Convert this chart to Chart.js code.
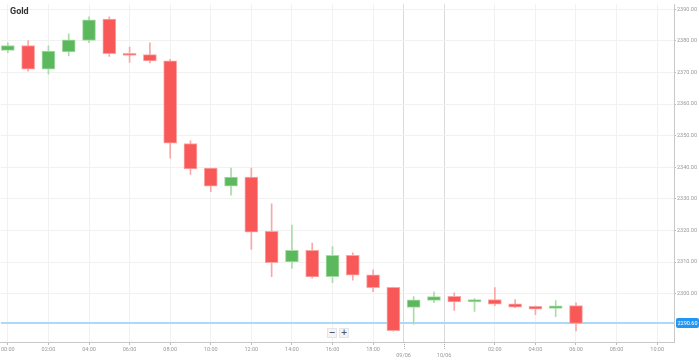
<!DOCTYPE html>
<html>
<head>
<meta charset="utf-8">
<script src="https://cdn.jsdelivr.net/npm/chart.js@4.4.1/dist/chart.umd.min.js"></script>
<style>
  html, body { margin: 0; padding: 0; background: #fff; }
  #wrap { position: relative; width: 699px; height: 361px; }
  #c { position: absolute; left: 0; top: 0; }
  #title { position: absolute; left: 10px; top: 6px; font: bold 9px Roboto, "Liberation Sans", sans-serif; color: #333; }
  .zbtn { position: absolute; top: 328px; width: 10px; height: 10px; background: #f4f4f4; border: 1px solid #e6e6e6; box-sizing: border-box;
          font: bold 8px/8px "DejaVu Sans", sans-serif; color: #555; text-align: center; }
</style>
</head>
<body>
<div id="wrap">
  <canvas id="c" width="699" height="361"></canvas>
  <div id="title">Gold</div>
  <div class="zbtn" style="left:327px">−</div>
  <div class="zbtn" style="left:339px">+</div>
</div>
<script>
// ---- data (hourly candles, x = trading-hour index) ----
const candleIndex = [0,1,2,3,4,5,6,7,8,9,10,11,12,13,14,15,16,17,18,19,20,21,22,23,24,25,26,27,28];
const opens  = [2376.97,2378.53,2371.03,2376.47,2380.10,2386.88,2375.94,2375.63,2373.66,2347.50,2339.69,2333.97,2336.88,2319.69,2310.00,2313.66,2305.40,2312.09,2305.94,2301.97,2295.63,2297.81,2299.16,2297.41,2298.13,2296.78,2295.94,2295.31,2296.25];
const highs  = [2379.38,2380.10,2378.44,2382.19,2387.60,2387.60,2378.03,2379.38,2374.16,2348.34,2339.69,2339.69,2339.69,2328.44,2321.66,2316.03,2314.90,2312.90,2307.50,2302.10,2299.06,2300.53,2300.22,2298.44,2301.88,2298.13,2296.16,2297.81,2297.10];
const lows   = [2376.25,2370.40,2369.47,2375.22,2379.38,2375.10,2373.13,2373.03,2342.90,2337.72,2332.28,2331.16,2313.97,2305.40,2308.03,2304.90,2303.44,2304.28,2300.63,2288.10,2290.31,2297.10,2294.69,2294.38,2296.16,2295.53,2293.34,2292.72,2288.22];
const closes = [2378.53,2371.03,2376.78,2380.31,2386.66,2375.94,2375.40,2373.66,2347.60,2339.47,2333.97,2336.88,2319.47,2309.78,2313.66,2305.31,2312.09,2305.84,2301.88,2288.25,2298.03,2299.06,2297.41,2298.13,2296.66,2295.72,2295.09,2296.16,2290.60];
const lastPrice = 2290.60;
const lastPriceLabel = "2290.60";

const xTickValues = [0,2,4,6,8,10,12,14,16,18,19.5,21.5,24,26,28,30,32];
const xTickLabels = ["00:00","02:00","04:00","06:00","08:00","10:00","12:00","14:00","16:00","18:00","09/06","10/06","02:00","04:00","06:00","08:00","10:00"];
const dateTickValues = [19.5, 21.5];
const yTickValues = [2300,2310,2320,2330,2340,2350,2360,2370,2380,2390];

// ---- styling ----
const UP = '#5cb85c', UP_EDGE = '#a8dba8', UP_WICK = '#a9dca9';
const DN = '#f85858', DN_EDGE = '#fca5a5', DN_WICK = '#f9a8a8';
const isUp = candleIndex.map((_, i) => closes[i] >= opens[i]);

const bodies = candleIndex.map((x, i) => ({ x, y: [opens[i], closes[i]] }));
const wicks  = candleIndex.map((x, i) => ({ x, y: [lows[i], highs[i]] }));

const FONT = { family: 'Roboto, "Liberation Sans", sans-serif', size: 5.5 };

const pricePlugin = {
  id: 'priceLine',
  beforeDatasetsDraw(chart) {
    const { ctx, chartArea, scales } = chart;
    const y = Math.round(scales.y.getPixelForValue(lastPrice));
    ctx.save();
    ctx.strokeStyle = '#acd9f7';
    ctx.lineWidth = 2;
    ctx.beginPath();
    ctx.moveTo(chartArea.left, y);
    ctx.lineTo(chartArea.right, y);
    ctx.stroke();
    ctx.restore();
  },
  afterDraw(chart) {
    const { ctx, chartArea, scales } = chart;
    const y = Math.round(scales.y.getPixelForValue(lastPrice));
    ctx.save();
    ctx.fillStyle = '#2196f3';
    ctx.beginPath();
    if (ctx.roundRect) ctx.roundRect(chartArea.right + 2, y - 5, 23, 10, 2); else ctx.rect(chartArea.right + 2, y - 5, 23, 10);
    ctx.fill();
    ctx.fillStyle = '#fff';
    ctx.font = '5.5px ' + FONT.family;
    ctx.textAlign = 'center';
    ctx.textBaseline = 'middle';
    ctx.fillText(lastPriceLabel, chartArea.right + 13.5, y + 0.5);
    // dashed day-separator ticks below the x axis
    ctx.strokeStyle = '#aaa';
    ctx.lineWidth = 1;
    ctx.setLineDash([1, 1]);
    dateTickValues.forEach(v => {
      const x = Math.round(scales.x.getPixelForValue(v)) + 0.5;
      ctx.beginPath();
      ctx.moveTo(x, chartArea.bottom);
      ctx.lineTo(x, chartArea.bottom + 8);
      ctx.stroke();
    });
    ctx.restore();
  }
};

new Chart(document.getElementById('c'), {
  type: 'bar',
  data: {
    datasets: [
      {
        label: 'body',
        data: bodies,
        grouped: false,
        barThickness: 13,
        minBarLength: 2,
        backgroundColor: isUp.map(u => u ? UP : DN),
        borderColor: isUp.map(u => u ? UP_EDGE : DN_EDGE),
        borderWidth: 1,
        borderSkipped: false,
        order: 1
      },
      {
        label: 'wick',
        data: wicks,
        grouped: false,
        barThickness: 1,
        backgroundColor: isUp.map(u => u ? UP_WICK : DN_WICK),
        borderWidth: 0,
        order: 2
      }
    ]
  },
  options: {
    responsive: false,
    animation: false,
    layout: { padding: 0 },
    plugins: { legend: { display: false }, tooltip: { enabled: false }, title: { display: false } },
    scales: {
      x: {
        type: 'linear',
        offset: false,
        min: -0.345,
        max: 32.83,
        afterBuildTicks: s => { s.ticks = xTickValues.map(v => ({ value: v })); },
        afterFit: s => { s.height = 19; },
        border: { color: '#c8c8c8', width: 1 },
        grid: {
          offset: false,
          color: c => dateTickValues.includes(c.tick && c.tick.value) ? '#dadada' : '#f1f1f1',
          lineWidth: 1,
          tickColor: c => dateTickValues.includes(c.tick && c.tick.value) ? 'rgba(0,0,0,0)' : '#bbb',
          tickLength: 3
        },
        ticks: {
          autoSkip: false,
          maxRotation: 0,
          padding: 1,
          color: '#999',
          font: FONT,
          callback: v => {
            const i = xTickValues.indexOf(v);
            if (i < 0) return '';
            return dateTickValues.includes(v) ? ['', xTickLabels[i]] : xTickLabels[i];
          }
        }
      },
      y: {
        type: 'linear',
        position: 'right',
        min: 2284.6875,
        max: 2391.5625,
        afterBuildTicks: s => { s.ticks = yTickValues.map(v => ({ value: v })); },
        afterFit: s => { s.width = 25; },
        border: { color: '#c8c8c8', width: 1 },
        grid: { color: '#f1f1f1', tickColor: '#bbb', tickLength: 2 },
        ticks: {
          padding: 1,
          color: '#999',
          font: FONT,
          callback: v => v.toFixed(2)
        }
      }
    }
  },
  plugins: [pricePlugin]
});
</script>
</body>
</html>
